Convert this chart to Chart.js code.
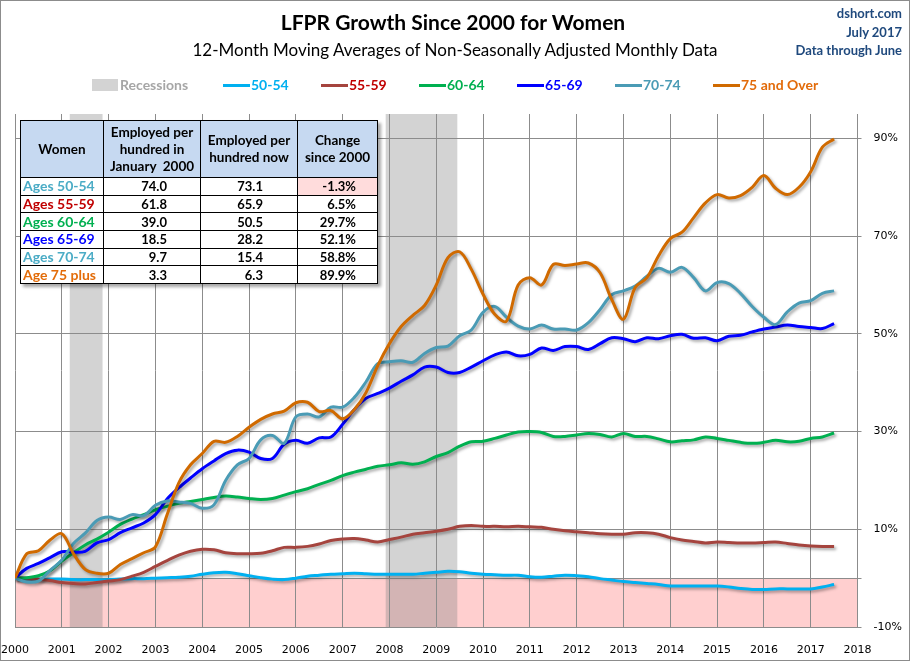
<!DOCTYPE html>
<html>
<head>
<meta charset="utf-8">
<title>LFPR Growth Since 2000 for Women</title>
<script src="https://cdn.jsdelivr.net/npm/chart.js@4.4.1/dist/chart.umd.min.js"></script>
<style>
  html, body { margin: 0; padding: 0; background: #fff; }
  #wrap { position: relative; width: 910px; height: 661px; overflow: hidden; font-family: Lato, "Open Sans", sans-serif; }
  #chartBox { position: absolute; left: 0; top: 0; width: 910px; height: 661px; }
  #frame { position: absolute; left: 0; top: 0; right: 0; bottom: 0; border: 1px solid #8c8c8c; pointer-events: none; }
  #title { position: absolute; left: 0; width: 906px; top: 9px; text-align: center; font-weight: bold; font-size: 21px; line-height: 26px; color: #000; }
  #subtitle { position: absolute; left: 0; width: 910px; top: 40px; text-align: center; font-size: 17px; line-height: 20px; color: #000; }
  #source { position: absolute; right: 8px; top: 4px; text-align: right; font-weight: bold; font-size: 13px; line-height: 18.5px; color: #1f497d; }
  #legend { position: absolute; left: 92px; top: 77px; display: flex; align-items: center; font-weight: bold; font-size: 14px; line-height: 16px; white-space: nowrap; }
  #legend .item { display: flex; align-items: center; width: 98px; }
  #legend .item.first { width: 131px; }
  #legend .item:last-child { width: auto; }
  #legend .mark { width: 27px; height: 3px; margin-right: 1px; }
  #legend .box { width: 26px; height: 12px; margin-right: 2px; }
  #tbl { position: absolute; left: 20px; top: 120px; border-collapse: collapse; background: #fff; box-shadow: 3px 3px 3px rgba(0,0,0,0.35); font-weight: bold; font-size: 13px; }
  #tbl td, #tbl th { border: 1px solid #000; padding: 0; }
  #tbl th { background: #c6d9f1; height: 56px; line-height: 17px; text-align: center; font-weight: bold; font-size: 13.5px; }
  #tbl td { height: 16.7px; line-height: 16px; text-align: right; }
  #tbl td.lab { text-align: left; padding-left: 2px; font-size: 14px; }
  #tbl td.c2 { padding-right: 33px; }
  #tbl td.c3 { padding-right: 34px; }
  #tbl td.c4 { padding-right: 21px; }
  #tbl td.neg { background: #ffdcdc; }
</style>
</head>
<body>
<div id="wrap">
  <div id="chartBox"><canvas id="lfprChart"></canvas></div>
  <div id="title">LFPR Growth Since 2000 for Women</div>
  <div id="subtitle">12-Month Moving Averages of Non-Seasonally Adjusted Monthly Data</div>
  <div id="source">dshort.com<br>July 2017<br>Data through June</div>
  <div id="legend"></div>
  <table id="tbl"></table>
  <div id="frame"></div>
</div>
<script>
// Eje de tiempo: trimestres desde enero 2000 hasta junio 2017
const quarters = [];
for (let i = 0; i <= 70; i++) quarters.push(2000 + i / 4);

// Cambio porcentual desde 2000
const age5054 = [0, -0.1, -0.2, -0.2, -0.2, -0.3, -0.3, -0.3, -0.3, -0.2, -0.1, -0.1, 0.0, 0.1, 0.2, 0.4,
  0.8, 1.1, 1.2, 0.9, 0.5, 0.1, -0.2, -0.3, 0.0, 0.4, 0.6, 0.8, 0.9, 1.0, 0.9, 0.8,
  0.8, 0.8, 0.8, 1.0, 1.2, 1.4, 1.3, 1.0, 0.8, 0.7, 0.6, 0.6, 0.3, 0.2, 0.4, 0.6,
  0.5, 0.3, -0.1, -0.4, -0.7, -0.9, -1.1, -1.3, -1.6, -1.6, -1.6, -1.6, -1.6, -1.8, -2.1, -2.3,
  -2.3, -2.2, -2.2, -2.2, -2.2, -1.8, -1.3];
const age5559 = [0, 0, -0.2, -0.5, -0.9, -1.1, -1.2, -0.9, -0.6, -0.3, 0.4, 1.2, 2.4, 3.6, 4.7, 5.5,
  5.9, 5.8, 5.2, 5.0, 5.0, 5.1, 5.6, 6.3, 6.3, 6.5, 7.0, 7.7, 8.0, 8.1, 7.8, 7.4,
  7.9, 8.4, 9.0, 9.3, 9.6, 10.0, 10.6, 10.8, 10.6, 10.6, 10.5, 10.6, 10.5, 10.4, 10.0, 9.7,
  9.5, 9.3, 9.1, 9.0, 9.0, 9.3, 9.3, 9.0, 8.3, 7.8, 7.5, 7.2, 7.4, 7.3, 7.2, 7.2,
  7.3, 7.4, 7.1, 6.8, 6.6, 6.5, 6.5];
const age6064 = [0, 0.1, 0.5, 1.5, 3.5, 5.2, 6.8, 8.0, 9.4, 11.0, 12.1, 13.0, 14.0, 14.7, 15.3, 15.7,
  16.1, 16.5, 16.8, 16.6, 16.3, 16.1, 16.3, 17.0, 17.7, 18.3, 19.2, 20.0, 21.0, 21.7, 22.3, 22.9,
  23.2, 23.6, 23.3, 23.8, 24.9, 25.7, 27.0, 27.9, 28.0, 28.6, 29.3, 29.9, 30.0, 29.8, 29.0, 29.0,
  29.3, 29.6, 29.4, 28.9, 29.6, 29.0, 29.0, 28.5, 27.9, 28.1, 28.3, 28.9, 28.6, 28.2, 27.8, 27.6,
  27.8, 28.2, 27.9, 28.0, 28.6, 28.9, 29.7];
const age6569 = [0, 2.0, 3.0, 4.2, 5.4, 5.3, 5.5, 7.2, 7.9, 9.3, 10.3, 11.3, 13.0, 16.2, 18.5, 20.5,
  22.4, 24.0, 25.5, 26.2, 25.8, 24.5, 24.5, 27.4, 28.2, 27.6, 28.7, 28.9, 31.5, 34.5, 36.8, 37.8,
  38.9, 40.3, 41.6, 43.2, 43.2, 42.1, 42.1, 43.2, 44.5, 45.7, 46.3, 45.5, 45.8, 47.1, 46.6, 47.4,
  47.4, 46.8, 48.0, 49.2, 49.0, 48.4, 49.2, 49.0, 49.6, 49.9, 49.1, 49.2, 48.6, 49.5, 49.7, 50.4,
  51.0, 51.4, 51.8, 51.5, 51.3, 51.1, 52.1];
const age7074 = [0, -0.8, -0.6, 1.6, 3.7, 7.1, 9.2, 11.8, 12.5, 12.0, 13.0, 12.8, 14.9, 15.8, 15.6, 15.3,
  14.3, 15.0, 20.0, 23.2, 24.5, 28.3, 29.2, 27.6, 33.0, 33.6, 33.0, 35.0, 35.0, 37.0, 40.2, 43.9,
  44.3, 44.5, 44.2, 46.0, 47.2, 47.5, 49.6, 50.8, 54.4, 55.6, 53.4, 51.6, 51.0, 51.8, 51.0, 51.0,
  50.8, 52.3, 55.0, 58.0, 58.8, 59.8, 61.8, 63.4, 62.6, 63.6, 61.5, 58.8, 60.5, 60.3, 58.3, 55.6,
  53.4, 51.9, 54.5, 56.3, 56.8, 58.3, 58.8];
const age75plus = [0, 5.0, 5.6, 7.8, 9.1, 5.0, 1.8, 1.0, 1.0, 2.8, 4.0, 5.2, 6.4, 13.0, 19.5, 23.2,
  25.5, 28.0, 27.8, 29.0, 30.9, 32.5, 33.6, 34.2, 35.9, 36.0, 34.1, 34.3, 32.6, 34.5, 38.0, 43.5,
  48.0, 51.5, 53.8, 55.8, 60.0, 65.6, 66.8, 63.2, 58.1, 54.0, 52.6, 60.0, 61.5, 60.0, 64.2, 64.0,
  64.3, 64.5, 62.5, 57.0, 53.0, 59.5, 61.5, 66.0, 69.5, 70.8, 73.8, 76.8, 78.5, 77.8, 78.3, 80.0,
  82.4, 79.8, 78.5, 80.0, 83.2, 88.2, 89.9];

const seriesNames = ['50-54', '55-59', '60-64', '65-69', '70-74', '75 and Over'];
const seriesColors = ['#00b0f0', '#a5443e', '#00b050', '#0000ff', '#4a9bb5', '#d06a00'];
const legendColors = ['#00b0f0', '#c00000', '#00b050', '#0000ff', '#4a9bb5', '#e26b0a'];
const seriesValues = [age5054, age5559, age6064, age6569, age7074, age75plus];

// Recesiones (inicio, fin) en anios decimales
const recessions = [[2001.17, 2001.87], [2007.92, 2009.45]];
const yTicks = [-10, 0, 10, 30, 50, 70, 90];

// Tabla
const tableHead = ['Women', 'Employed per<br>hundred in<br>January&nbsp; 2000', 'Employed per<br>hundred now', 'Change<br>since 2000'];
const tableLabels = ['Ages 50-54', 'Ages 55-59', 'Ages 60-64', 'Ages 65-69', 'Ages 70-74', 'Age 75 plus'];
const tableLabelColors = ['#4bacc6', '#c00000', '#00b050', '#0000ff', '#4bacc6', '#e36c09'];
const jan2000 = ['74.0', '61.8', '39.0', '18.5', '9.7', '3.3'];
const nowVals = ['73.1', '65.9', '50.5', '28.2', '15.4', '6.3'];
const changeVals = ['-1.3%', '6.5%', '29.7%', '52.1%', '58.8%', '89.9%'];

// Leyenda en HTML
function buildLegend() {
  const el = document.getElementById('legend');
  let html = '<div class="item first"><div class="box" style="background:#d3d3d3"></div><span style="color:#a6a6a6">Recessions</span></div>';
  seriesNames.forEach((name, i) => {
    html += `<div class="item"><div class="mark" style="background:${seriesColors[i]}"></div><span style="color:${legendColors[i]}">${name}</span></div>`;
  });
  el.innerHTML = html;
}

function buildTable() {
  const widths = [82, 96, 96, 79];
  let html = '<tr>' + tableHead.map((h, i) => `<th style="width:${widths[i]}px">${h}</th>`).join('') + '</tr>';
  tableLabels.forEach((lab, i) => {
    const neg = changeVals[i].startsWith('-') ? ' neg' : '';
    html += `<tr><td class="lab" style="color:${tableLabelColors[i]}">${lab}</td>` +
      `<td class="c2">${jan2000[i]}</td><td class="c3">${nowVals[i]}</td><td class="c4${neg}">${changeVals[i]}</td></tr>`;
  });
  document.getElementById('tbl').innerHTML = html;
}

// Zona negativa rosa y bandas de recesion
const backdrop = {
  id: 'backdrop',
  beforeDraw(chart) {
    const { ctx, chartArea: a, scales: { x, y } } = chart;
    ctx.save();
    ctx.beginPath();
    ctx.rect(a.left, a.top, a.width, a.height);
    ctx.clip();
    const y0 = y.getPixelForValue(0);
    ctx.fillStyle = '#ffcfcf';
    ctx.fillRect(a.left, y0, a.width, a.bottom - y0);
    ctx.fillStyle = 'rgba(128,128,128,0.35)';
    recessions.forEach(([s, e]) => {
      const x1 = x.getPixelForValue(s);
      const x2 = x.getPixelForValue(e);
      ctx.fillRect(x1, a.top, x2 - x1, a.height);
    });
    ctx.restore();
  }
};

// Sombra de las lineas
const lineShadow = {
  id: 'lineShadow',
  beforeDatasetDraw(chart) {
    const c = chart.ctx;
    c.save();
    c.shadowColor = 'rgba(0,0,0,0.35)';
    c.shadowBlur = 3;
    c.shadowOffsetX = 2;
    c.shadowOffsetY = 2;
  },
  afterDatasetDraw(chart) {
    chart.ctx.restore();
  }
};

function drawChart() {
  const ctx = document.getElementById('lfprChart').getContext('2d');
  const datasets = seriesNames.map((name, i) => ({
    label: name,
    data: quarters.map((t, j) => ({ x: t, y: seriesValues[i][j] })),
    borderColor: seriesColors[i],
    backgroundColor: seriesColors[i],
    borderWidth: 3,
    pointRadius: 0,
    tension: 0.35,
    order: seriesNames.length - i
  }));

  new Chart(ctx, {
    type: 'line',
    data: { datasets: datasets },
    options: {
      responsive: true,
      maintainAspectRatio: false,
      animation: false,
      layout: { padding: { left: 15, top: 114, right: 0, bottom: 0 } },
      plugins: {
        legend: { display: false },
        tooltip: { enabled: false }
      },
      scales: {
        x: {
          type: 'linear',
          min: 2000,
          max: 2018,
          ticks: {
            stepSize: 1,
            autoSkip: false,
            maxRotation: 0,
            padding: 1,
            color: '#000',
            font: { family: 'DejaVu Sans', size: 11 },
            callback: v => String(v)
          },
          grid: { color: '#8c8c8c', tickLength: 16, tickColor: 'rgba(0,0,0,0)' },
          border: { display: false },
          afterFit: s => { s.height = 34; }
        },
        y: {
          position: 'right',
          min: -10,
          max: 95,
          afterBuildTicks: s => { s.ticks = yTicks.map(v => ({ value: v })); },
          ticks: {
            padding: 12,
            color: '#000',
            font: { family: 'DejaVu Sans', size: 11 },
            callback: v => (v === 0 ? '' : v + '%')
          },
          grid: { color: '#8c8c8c', tickLength: 4 },
          border: { display: false },
          afterFit: s => { s.width = 52.5; }
        }
      }
    },
    plugins: [backdrop, lineShadow]
  });
}

buildLegend();
buildTable();
drawChart();
</script>
</body>
</html>
